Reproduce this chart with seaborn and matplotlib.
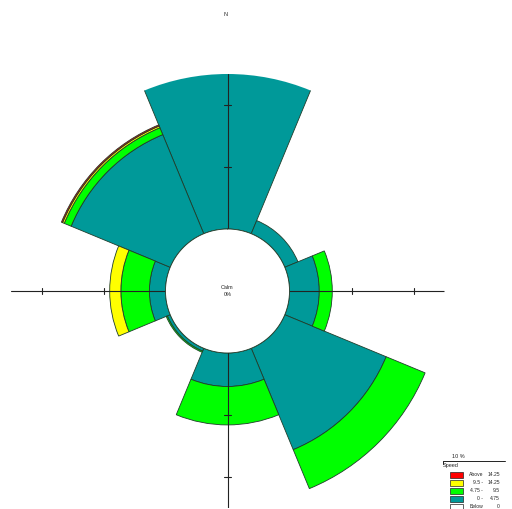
"""
Wind rose: frequency of wind direction by speed class (8 sectors).
Output: out.png
"""

import matplotlib.pyplot as plt
import numpy as np
import seaborn as sns
from matplotlib.patches import Rectangle

# ── Style ─────────────────────────────────────────────────────────────────────
sns.set_theme(style="white")
plt.rcParams["font.family"] = ["Liberation Sans", "DejaVu Sans"]

TEAL = "#009999"
GREEN = "#00ff00"
YELLOW = "#ffff00"
RED = "#ff0000"
EDGE = "#1f3d2b"

# ── Data (percent of observations) ────────────────────────────────────────────
directions = ["N", "NE", "E", "SE", "S", "SW", "W", "NW"]
calm_pct = 0
speed_0_475 = [25.2, 2.3, 4.8, 17.7, 5.4, 0.5, 2.6, 17.3]
speed_475_95 = [0.0, 0.0, 2.1, 6.8, 6.2, 0.2, 4.6, 1.2]
speed_95_1425 = [0.0, 0.0, 0.0, 0.0, 0.0, 0.0, 1.8, 0.3]
speed_above_1425 = [0.0, 0.0, 0.0, 0.0, 0.0, 0.0, 0.0, 0.2]

legend_left = ["Above", "9.5 -", "4.75 -", "0 -", "Below"]
legend_right = ["14.25", "14.25", "9.5", "4.75", "0"]
legend_colors = [RED, YELLOW, GREEN, TEAL, "white"]

CALM_R = 10        # calm circle drawn as a 10 % ring
R_MAX = 35
TICKS = [20, 30]

# ── Figure ────────────────────────────────────────────────────────────────────
W, H = 512, 509
fig = plt.figure(figsize=(W / 100, H / 100), dpi=100)
fig.patch.set_facecolor("white")

cx, cy, rad = 227.5, 291, 217
ax = fig.add_axes([(cx - rad) / W, (H - cy - rad) / H, 2 * rad / W, 2 * rad / H],
                  projection="polar")
ax.set_theta_zero_location("N")
ax.set_theta_direction(-1)
ax.set_ylim(0, R_MAX)
ax.set_axis_off()

theta = np.deg2rad(np.arange(len(directions)) * 45)
width = np.deg2rad(45)

# stacked speed classes
bottom = np.full(len(directions), CALM_R, dtype=float)
for vals, col in [(speed_0_475, TEAL), (speed_475_95, GREEN),
                  (speed_95_1425, YELLOW), (speed_above_1425, RED)]:
    vals = np.array(vals)
    keep = vals > 0
    ax.bar(theta[keep], vals[keep], width=width, bottom=bottom[keep],
           color=col, edgecolor=EDGE, linewidth=0.6, zorder=1)
    bottom += vals

# cross axes with tick marks
for t in np.deg2rad([0, 90, 180, 270]):
    ax.plot([t, t], [0, R_MAX], color="#222222", lw=0.8, zorder=2)
    for r in TICKS:
        h = 0.5
        dt = np.arctan(h / r)
        rr = np.hypot(r, h)
        ax.plot([t - dt, t + dt], [rr, rr], color="#222222", lw=0.8, zorder=2)

# calm circle
ax.bar(0, CALM_R, width=2 * np.pi, bottom=0, color="white", edgecolor="none", zorder=3)
circ = np.linspace(0, 2 * np.pi, 361)
ax.plot(circ, np.full_like(circ, CALM_R), color=EDGE, lw=0.6, zorder=3)
ax.text(0, 0, f"Calm\n{calm_pct}%", ha="center", va="center", fontsize=4,
        linespacing=1.3, zorder=4)

# ── Labels & legend (figure pixel coordinates) ────────────────────────────────
def fx(x):
    return x / W


def fy(y):
    return 1 - y / H


fig.text(fx(226), fy(14), "N", ha="center", va="center", fontsize=4)

# scale bar: 10 %
bar_px = 62
fig.text(fx(458), fy(456), "10 %", ha="center", va="center", fontsize=4)
fig.add_artist(plt.Line2D([fx(443), fx(443 + bar_px)], [fy(461), fy(461)],
                          color="#222222", lw=0.7))
fig.add_artist(plt.Line2D([fx(443), fx(443)], [fy(461), fy(464)],
                          color="#222222", lw=0.7))
fig.text(fx(443), fy(466), "Speed", ha="left", va="center", fontsize=4)

for i, (lt, rt, col) in enumerate(zip(legend_left, legend_right, legend_colors)):
    yc = 475 + 8 * i
    fig.add_artist(Rectangle((fx(450), fy(yc + 3)), 13 / W, 6 / H,
                             facecolor=col, edgecolor="#222222", lw=0.5,
                             transform=fig.transFigure))
    fig.text(fx(483), fy(yc), lt, ha="right", va="center", fontsize=3.6)
    fig.text(fx(500), fy(yc), rt, ha="right", va="center", fontsize=3.6)

fig.savefig("out.png", dpi=100, facecolor="white")
plt.close()
